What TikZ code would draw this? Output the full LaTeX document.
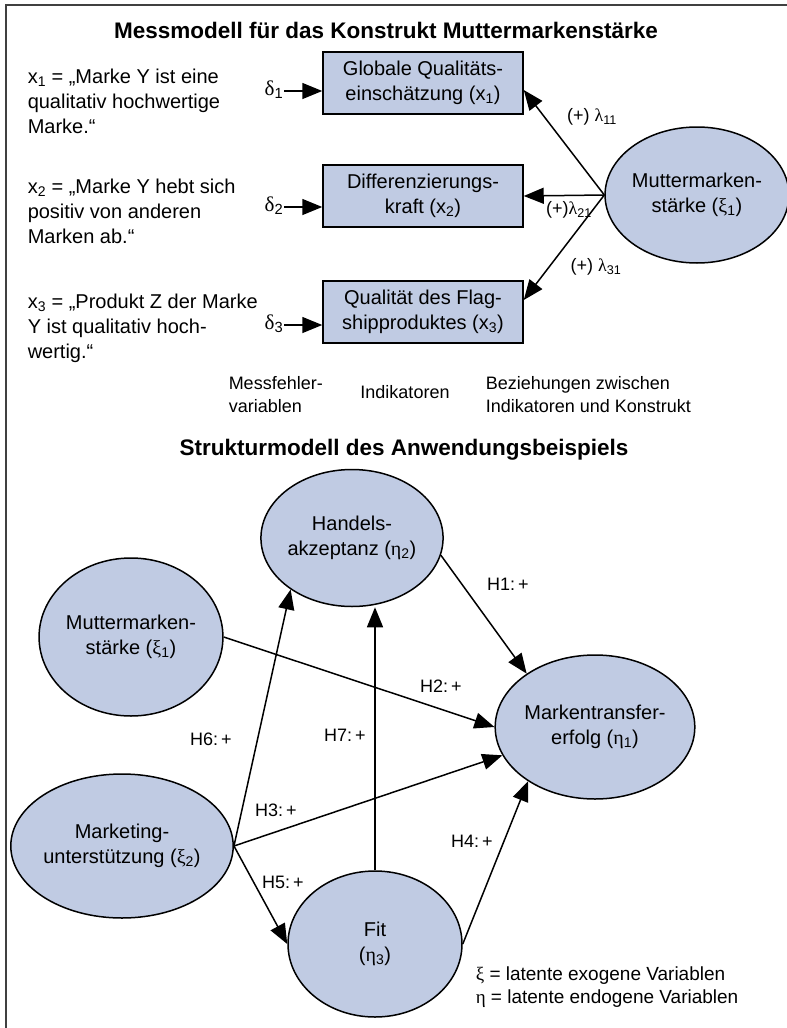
\documentclass[tikz,border=0pt]{standalone}
\usepackage{fontspec}
\setmainfont{Liberation Sans}
\newfontfamily\grk{Liberation Serif}
\usetikzlibrary{arrows.meta}
\usetikzlibrary{shapes.geometric}
\usetikzlibrary{calc}
\definecolor{latblue}{RGB}{192,203,227}

\begin{document}
\begin{tikzpicture}[x=1pt,y=-1pt,>={Triangle[length=20pt,width=16pt]},line width=1.5pt,
	ind/.style={draw,fill=latblue,minimum width=200pt,minimum height=62pt,align=center,inner sep=0pt,font=\fontsize{20}{25}\selectfont},
	lat/.style={draw,ellipse,fill=latblue,align=center,inner sep=0pt,font=\fontsize{20}{25}\selectfont},
	txt/.style={anchor=west,align=left,inner sep=0pt,font=\fontsize{20}{25}\selectfont},
	lbl/.style={inner sep=0pt,font=\fontsize{18}{23}\selectfont},
	ttl/.style={inner sep=0pt,font=\bfseries\fontsize{22.5}{27}\selectfont}]
	\useasboundingbox (0,0) rectangle (787,1028);
	\draw[line width=1.2pt,black!75] (6,1028) |- (787,5);

	% Messmodell
	\node[ttl] (title1) at (386,30) {Messmodell für das Konstrukt Muttermarkenstärke};
	\node[txt] (t1) at (27,101) {x\textsubscript{1} = „Marke Y ist eine\\qualitativ hochwertige\\Marke.“};
	\node[txt] (t2) at (27,211) {x\textsubscript{2} = „Marke Y hebt sich\\positiv von anderen\\Marken ab.“};
	\node[txt] (t3) at (27,328) {x\textsubscript{3} = „Produkt Z der Marke\\Y ist qualitativ hoch-\\wertig.“};

	\node[ind] (x1) at (423,83) {Globale Qualitäts-\\einschätzung (x\textsubscript{1})};
	\node[ind] (x2) at (423,196) {Differenzierungs-\\kraft (x\textsubscript{2})};
	\node[ind] (x3) at (423,312) {Qualität des Flag-\\shipproduktes (x\textsubscript{3})};
	\node[lat,minimum width=164pt,minimum height=136pt] (xi) at (697,195) {Muttermarken-\\stärke ({\grk ξ}\textsubscript{1})};

	\node[lbl,anchor=base east,font=\fontsize{21}{25}\selectfont] (d1) at (284,95) {{\grk δ}\textsubscript{1}};
	\node[lbl,anchor=base east,font=\fontsize{21}{25}\selectfont] (d2) at (284,211) {{\grk δ}\textsubscript{2}};
	\node[lbl,anchor=base east,font=\fontsize{21}{25}\selectfont] (d3) at (284,329) {{\grk δ}\textsubscript{3}};
	\draw[->] ([yshift=4pt]d1.base east) -- ([yshift=4pt]d1.base east -| x1.west);
	\draw[->] ([yshift=4pt]d2.base east) -- ([yshift=4pt]d2.base east -| x2.west);
	\draw[->] ([yshift=4pt]d3.base east) -- ([yshift=4pt]d3.base east -| x3.west);

	\draw[->] (xi.west) -- ([yshift=-7pt]x1.east);
	\draw[->] (xi.west) -- (x2.east);
	\draw[->] (xi.west) -- ([yshift=12pt]x3.east);
	\node[lbl] (l1) at (592,117) {(+) {\grk λ}\textsubscript{11}};
	\node[lbl] (l2) at (569,210) {(+){\grk λ}\textsubscript{21}};
	\node[lbl] (l3) at (596,267) {(+) {\grk λ}\textsubscript{31}};

	\node[lbl,anchor=west,align=left] (mf) at (228,395) {Messfehler-\\variablen};
	\node[lbl] (ik) at (405,392) {Indikatoren};
	\node[lbl,anchor=west,align=left] (bz) at (485,395) {Beziehungen zwischen\\Indikatoren und Konstrukt};

	% Strukturmodell
	\node[ttl] (title2) at (404,450) {Strukturmodell des Anwendungsbeispiels};
	\node[lat,minimum width=181pt,minimum height=137pt] (ha) at (352,538) {Handels-\\akzeptanz ({\grk η}\textsubscript{2})};
	\node[lat,minimum width=171pt,minimum height=158pt] (ms) at (131,637) {Muttermarken-\\stärke ({\grk ξ}\textsubscript{1})};
	\node[lat,minimum width=195pt,minimum height=144pt] (mt) at (595,727) {Markentransfer-\\erfolg ({\grk η}\textsubscript{1})};
	\node[lat,minimum width=182pt,minimum height=144pt] (mk) at (122,846) {Marketing-\\unterstützung ({\grk ξ}\textsubscript{2})};
	\node[lat,minimum width=174pt,minimum height=146pt] (fit) at (375,944) {Fit\\({\grk η}\textsubscript{3})};

	\draw[->] (ha.-11) -- (mt.142);
	\draw[->] (ms.east) -- (mt.west);
	\draw[->] (mk.east) -- (mt.197);
	\draw[->] (fit.east) -- (mt.219);
	\draw[->] (mk.east) -- (fit.west);
	\draw[->] (mk.east) -- (ha.220);
	\draw[->] (fit.north) -- (fit.north |- ha.south);

	\node[lbl] (h1) at (508,584) {H1:\,+};
	\node[lbl] (h2) at (441,686) {H2:\,+};
	\node[lbl] (h3) at (276,810) {H3:\,+};
	\node[lbl] (h4) at (472,841) {H4:\,+};
	\node[lbl] (h5) at (283,882) {H5:\,+};
	\node[lbl] (h6) at (211,739) {H6:\,+};
	\node[lbl] (h7) at (345,735) {H7:\,+};

	\node[lbl,anchor=west,align=left,font=\fontsize{19}{23}\selectfont] (lg) at (475,987) {{\grk ξ} = latente exogene Variablen\\{\grk η} = latente endogene Variablen};
\end{tikzpicture}
\end{document}
